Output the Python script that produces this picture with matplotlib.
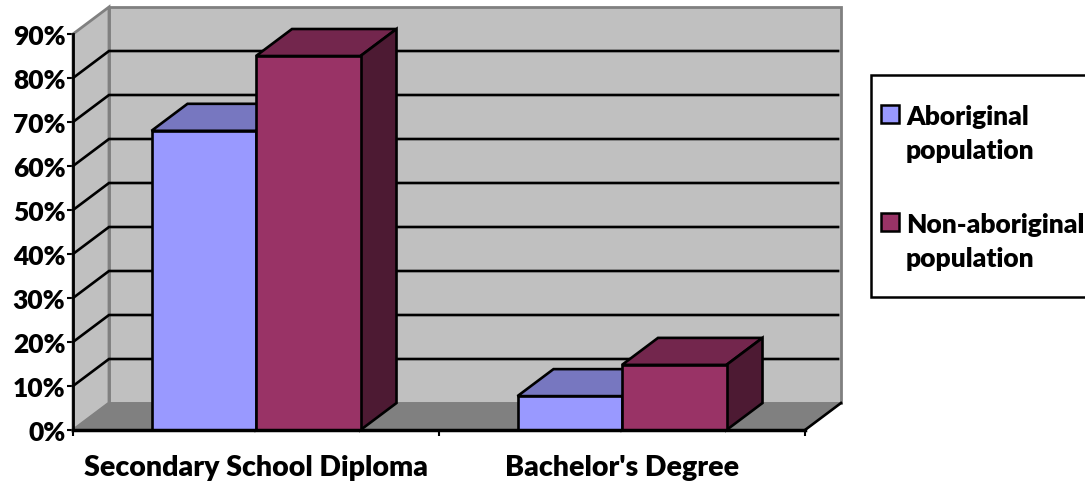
import matplotlib
matplotlib.use("Agg")
import matplotlib.pyplot as plt
from matplotlib.patches import Polygon, Rectangle

categories = ["Secondary School Diploma", "Bachelor's Degree"]
aboriginal = [68, 7.7]
non_aboriginal = [85, 14.8]
y_ticks = [0, 10, 20, 30, 40, 50, 60, 70, 80, 90]
y_labels = ["0%", "10%", "20%", "30%", "40%", "50%", "60%", "70%", "80%", "90%"]
legend_lines = [("Aboriginal", "population"), ("Non-aboriginal", "population")]

W, H = 1085, 485
plt.rcParams["font.family"] = ["Lato", "DejaVu Sans"]
plt.rcParams["font.weight"] = "bold"

fig = plt.figure(figsize=(W / 100, H / 100), dpi=100)
ax = fig.add_axes([73 / W, 1 - 431 / H, 732 / W, 396 / H])
ax.set_xlim(0, 2)
ax.set_ylim(0, 90)
ax.patch.set_visible(False)

# depth of the fake 3d box, in data units
dx = 36 / 366
dy = 27 / 4.4
bar_w = 104.5 / 366


def poly(pts, fc, ec="black", lw=1.9, z=3):
    ax.add_patch(Polygon(pts, closed=True, facecolor=fc, edgecolor=ec, linewidth=lw,
                         zorder=z, clip_on=False, joinstyle="miter"))


# walls and floor
poly([(dx, dy), (2 + dx, dy), (2 + dx, 90 + dy), (dx, 90 + dy)], "#C0C0C0", "#808080", 2)
poly([(0, 0), (dx, dy), (dx, 90 + dy), (0, 90)], "#C0C0C0", "#808080", 2)
poly([(0, 0), (2, 0), (2 + dx, dy), (dx, dy)], "#808080", "#808080", 1)
ax.plot([2, 2 + dx], [0, dy], color="black", lw=1.9, zorder=3.1, clip_on=False)

# gridlines, none on the top edge of the wall
for t in y_ticks[1:-1]:
    ax.plot([0, dx, 2 + dx - 0.008], [t, t + dy, t + dy], color="black", lw=1.9,
            zorder=3.2, clip_on=False, solid_joinstyle="miter")

# bars
series = [(aboriginal, -bar_w, "#9999FF", "#7777C0", "#4D4D80"),
          (non_aboriginal, 0, "#993366", "#73264D", "#4D1A33")]
for vals, off, front, top, side in series:
    for i, v in enumerate(vals):
        x0 = i + 0.5 + off
        x1 = x0 + bar_w
        poly([(x0, v), (x1, v), (x1 + dx, v + dy), (x0 + dx, v + dy)], top, z=4)
        poly([(x1, 0), (x1 + dx, dy), (x1 + dx, v + dy), (x1, v)], side, z=4)
        ax.bar(x0, v, width=bar_w, align="edge", color=front, edgecolor="black",
               linewidth=1.9, zorder=5, clip_on=False)

# axes
for s in ["top", "right"]:
    ax.spines[s].set_visible(False)
ax.spines["left"].set_linewidth(2)
ax.spines["bottom"].set_linewidth(2.5)
ax.spines["left"].set_zorder(6)
ax.spines["bottom"].set_zorder(6)
ax.set_yticks(y_ticks)
ax.set_yticklabels(y_labels, fontsize=19, fontweight="heavy")
ax.set_xticks([0, 1, 2])
ax.set_xticklabels([])
ax.set_xticks([0.5, 1.5], categories, minor=True, fontsize=20.5, fontweight="heavy")
ax.tick_params(axis="x", which="major", length=4.5, width=1.5)
ax.tick_params(axis="x", which="minor", length=0, pad=17)
ax.tick_params(axis="y", length=4, width=1.5, pad=1.5)

# legend box, handles sit on the first line of each label
fig.add_artist(Rectangle((871 / W, 1 - 298 / H), 216 / W, 222 / H, transform=fig.transFigure,
                         facecolor="white", edgecolor="black", linewidth=1.8))
legend_colors = ["#9999FF", "#993366"]
for y0, lines, c in zip([115, 223], legend_lines, legend_colors):
    fig.add_artist(Rectangle((881 / W, 1 - (y0 + 9) / H), 18 / W, 18 / H,
                             transform=fig.transFigure, facecolor=c, edgecolor="black",
                             linewidth=1.8))
    fig.text(906 / W, 1 - (y0 + 2) / H, lines[0], fontsize=19, fontweight="heavy", va="center")
    fig.text(906 / W, 1 - (y0 + 36) / H, lines[1], fontsize=19, fontweight="heavy", va="center")

fig.savefig("out.png", dpi=100)
